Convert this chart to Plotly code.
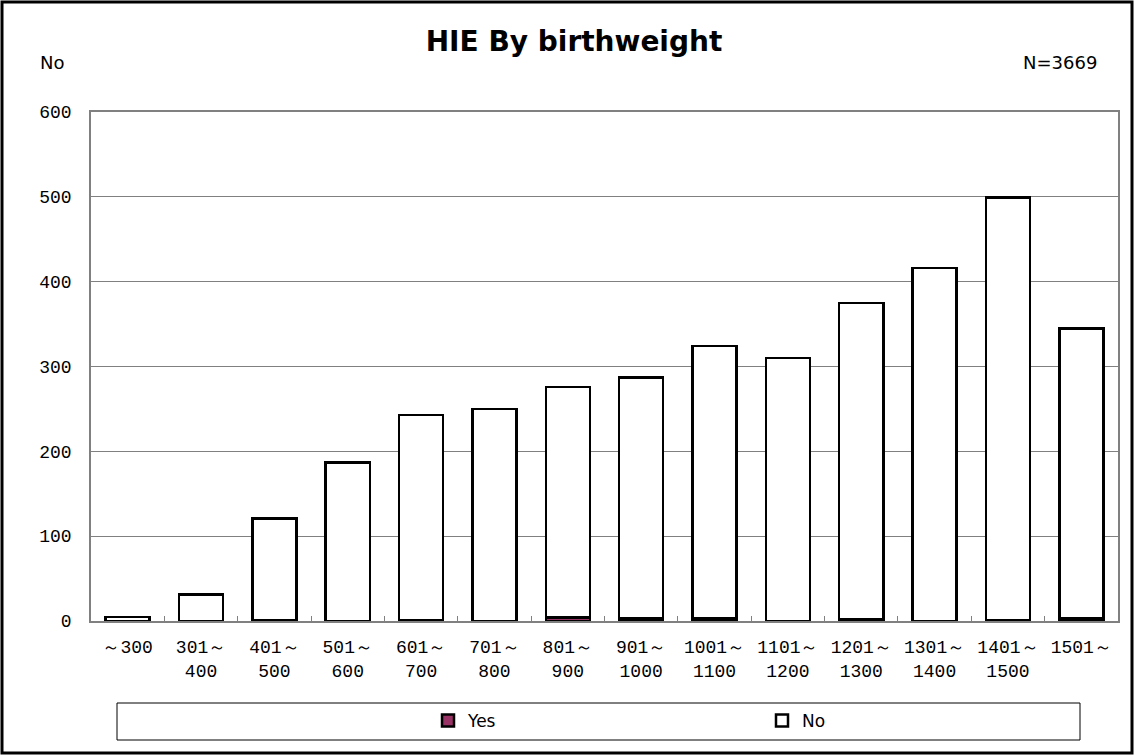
import plotly.graph_objects as go

# Birthweight bands (g)
categories = ["～300", "301～<br>400", "401～<br>500", "501～<br>600", "601～<br>700",
              "701～<br>800", "801～<br>900", "901～<br>1000", "1001～<br>1100",
              "1101～<br>1200", "1201～<br>1300", "1301～<br>1400", "1401～<br>1500",
              "1501～"]
# Cases with HIE
hie_yes = [0, 0, 1, 0, 1, 0, 4, 3, 3, 0, 2, 0, 1, 3]
# Cases without HIE
hie_no = [5, 31, 120, 187, 242, 250, 272, 284, 321, 310, 373, 416, 498, 342]

y_ticks = [0, 100, 200, 300, 400, 500, 600]

W, H = 1134, 755
L, R, T, B = 91, 16, 112, 134
pw, ph = W - L - R, H - T - B


def px(x):
    return (x - L) / pw


def py(y):
    return (H - B - y) / ph


legend_font = dict(family="DejaVu Sans", size=17, color="black")

fig = go.Figure()
fig.add_trace(go.Bar(
    x=categories, y=hie_yes, name="Yes", legend="legend",
    marker=dict(color="#993366", line=dict(color="black", width=2.5)),
))
fig.add_trace(go.Bar(
    x=categories, y=hie_no, name="No", legend="legend2",
    marker=dict(color="white", line=dict(color="black", width=2.5)),
))

fig.update_layout(
    width=W, height=H,
    margin=dict(l=L, r=R, t=T, b=B, autoexpand=False),
    barmode="stack", bargap=0.4,
    plot_bgcolor="white", paper_bgcolor="white",
    showlegend=True,
    legend=dict(
        orientation="h", x=px(428), xanchor="left", y=py(721), yanchor="middle",
        font=legend_font, itemwidth=30, bgcolor="rgba(0,0,0,0)",
    ),
    legend2=dict(
        orientation="h", x=px(762), xanchor="left", y=py(721), yanchor="middle",
        font=legend_font, itemwidth=30, bgcolor="rgba(0,0,0,0)",
    ),
    title=dict(
        text="<b>HIE By birthweight</b>", x=px(574), xref="paper", xanchor="center",
        y=1 - 41 / H, yanchor="middle",
        font=dict(family="DejaVu Sans", size=28, color="black"),
    ),
    xaxis=dict(
        type="category", showgrid=False, tickangle=0,
        showline=True, linecolor="#808080", linewidth=1.5, mirror=True,
        ticks="inside", tickson="boundaries", ticklen=5, tickcolor="#808080",
        tickfont=dict(family="Liberation Mono", size=18, color="black"),
        ticklabelstandoff=9,
    ),
    yaxis=dict(
        range=[0, 600], tickvals=y_ticks,
        showgrid=True, gridcolor="#808080", gridwidth=1,
        showline=True, linecolor="#808080", linewidth=1.5, mirror=True,
        ticks="", zeroline=False,
        tickfont=dict(family="Liberation Mono", size=18, color="black"),
        ticklabelstandoff=14,
    ),
    annotations=[
        dict(text="No", x=px(38), y=py(62), xref="paper", yref="paper",
             xanchor="left", yanchor="middle", showarrow=False,
             font=dict(family="DejaVu Sans", size=18, color="black")),
        dict(text="N=3669", x=px(1099), y=py(62), xref="paper", yref="paper",
             xanchor="right", yanchor="middle", showarrow=False,
             font=dict(family="DejaVu Sans", size=18, color="black")),
    ],
    shapes=[
        # legend frame
        dict(type="rect", xref="paper", yref="paper",
             x0=px(117), x1=px(1080), y0=py(740), y1=py(703),
             line=dict(color="black", width=1)),
        # outer chart frame
        dict(type="rect", xref="paper", yref="paper",
             x0=px(2), x1=px(W - 2), y0=py(H - 2), y1=py(2),
             line=dict(color="black", width=3)),
    ],
)

fig.write_html("out.html")
